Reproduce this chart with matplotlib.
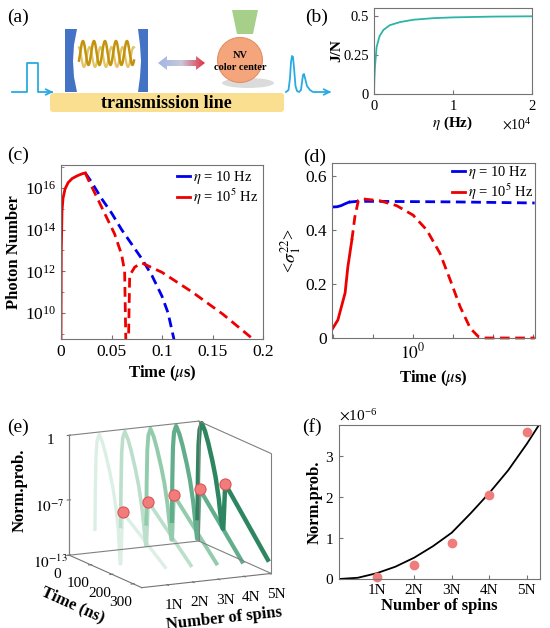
import numpy as np
import matplotlib
matplotlib.use('Agg')
import matplotlib.pyplot as plt
from matplotlib.patches import Polygon, Circle, Ellipse, FancyBboxPatch
from matplotlib.colors import LinearSegmentedColormap
from matplotlib.ticker import FixedLocator, NullLocator, NullFormatter, ScalarFormatter

plt.rcParams['font.family'] = ['Liberation Serif', 'DejaVu Serif']
plt.rcParams['mathtext.fontset'] = 'stix'
plt.rcParams['xtick.direction'] = 'in'
plt.rcParams['ytick.direction'] = 'in'
plt.rcParams['axes.edgecolor'] = '0.45'
plt.rcParams['xtick.color'] = '0.45'
plt.rcParams['ytick.color'] = '0.45'
plt.rcParams['xtick.labelcolor'] = 'black'
plt.rcParams['ytick.labelcolor'] = 'black'

# ---- data ----
# (b) J/N vs eta
b_eta = [0, 50, 130, 330, 700, 1200, 2000, 3300, 5000, 7500, 10000, 15000, 20000]
b_jn = [0, 0.10, 0.18, 0.30, 0.37, 0.41, 0.44, 0.46, 0.475, 0.485, 0.49, 0.495, 0.497]

# (c) photon number, log10 values, time in us
c_rise_t = [0, 0.0003, 0.001, 0.002, 0.004, 0.007, 0.011, 0.016, 0.021, 0.024]
c_rise_log = [8.7, 13.0, 14.9, 15.5, 15.95, 16.25, 16.45, 16.58, 16.68, 16.72]
c_blue_t = [0.024, 0.03, 0.04, 0.05, 0.06, 0.07, 0.08, 0.09, 0.1, 0.106, 0.112]
c_blue_log = [16.72, 16.3, 15.5, 14.8, 14.0, 13.3, 12.6, 11.8, 10.8, 10.0, 8.7]
c_red_t = [0.024, 0.027, 0.035, 0.045, 0.053, 0.06, 0.063, 0.0655, 0.068, 0.073,
           0.08, 0.1, 0.13, 0.16, 0.19]
c_red_log = [16.72, 16.4, 15.6, 14.6, 13.8, 12.8, 12.0, 5.0, 11.8, 12.2,
             12.4, 11.95, 11.0, 9.95, 8.75]

# (d) <sigma_1^22> vs time (us)
d_blue_solid_t = [0.0093, 0.0126, 0.0158, 0.020, 0.025]
d_blue_solid_y = [0.485, 0.486, 0.490, 0.497, 0.503]
d_blue_dash_t = [0.025, 0.04, 0.1, 1, 10, 100, 1100]
d_blue_dash_y = [0.503, 0.506, 0.506, 0.505, 0.504, 0.502, 0.500]
d_red_solid_t = [0.0093, 0.0132, 0.020, 0.0234, 0.0295]
d_red_solid_y = [0.03, 0.067, 0.167, 0.263, 0.363]
d_red_dash_t = [0.0295, 0.035, 0.043, 0.056, 0.15, 0.39, 1.0, 2.2, 4.7, 8.5, 15, 27, 43, 60, 1100]
d_red_dash_y = [0.363, 0.448, 0.51, 0.515, 0.508, 0.49, 0.455, 0.40, 0.314, 0.215, 0.116,
                0.036, 0.005, 0.0, 0.0]

# (e) normalized probability, log10, time in ns
e_spins = [1, 2, 3, 4, 5]
e_peak_t = [0, 2, 5, 10, 20, 35, 50, 70, 85, 100, 110]
e_peak_logp = [-10.5, -6, -2.5, -0.8, 0, -0.7, -1.8, -3.6, -5.2, -7.4, -9.5]
e_dip_t = 118
e_dip_logp = [-13, -11.3, -11.0, -11.2, -10.4]
e_mark_t = 130
e_end_t = 330
e_end_logp = [-11.2, -11.3, -11.4, -11.5, -11.6]
e_colors = ['#dcefe4', '#bcdfcb', '#93cbad', '#62ad8b', '#2d865f']

# (f) norm. prob. (x1e-6) vs number of spins
f_n = [1, 2, 3, 4, 5]
f_p = [0.05, 0.35, 0.87, 2.05, 3.6]
fit_n = [0, 0.5, 1, 1.5, 2, 2.5, 3, 3.5, 4, 4.5, 5, 5.35]
fit_p = [0, 0.03, 0.14, 0.3, 0.52, 0.8, 1.13, 1.6, 2.1, 2.65, 3.3, 3.8]
spin_labels = ['1N', '2N', '3N', '4N', '5N']

W, H = 550, 628
fig = plt.figure(figsize=(W / 100, H / 100), dpi=100)


def rect(x0, y0, x1, y1):
    return [x0 / W, 1 - y1 / H, (x1 - x0) / W, (y1 - y0) / H]


LAB = dict(fontsize=12, fontweight='bold')

# ---- (a) schematic ----
ax_a = fig.add_axes(rect(0, 0, 345, 128))
ax_a.set_xlim(0, 345)
ax_a.set_ylim(128, 0)
ax_a.axis('off')
ax_a.add_patch(FancyBboxPatch((50, 93), 234, 19, boxstyle='round,pad=0,rounding_size=3',
                              fc='#f9df8f', ec='none'))
ax_a.text(166, 103, 'transmission line', ha='center', va='center', fontsize=13,
          fontweight='bold')
mirror_l = [(65, 29), (77, 29), (74, 45), (73, 61), (74, 77), (77, 92), (65, 92)]
mirror_r = [(148, 29), (138, 29), (140, 45), (141, 61), (140, 77), (138, 92), (148, 92)]
ax_a.add_patch(Polygon(mirror_l, fc='#4472c4', ec='none'))
ax_a.add_patch(Polygon(mirror_r, fc='#4472c4', ec='none'))
wx = np.linspace(79, 134, 200)
ax_a.plot(wx, 57 + 10 * np.cos((wx - 84) / 55 * 5 * 2 * np.pi), color='#e2c46a', lw=1.6)
ax_a.plot(wx, 53 - 12 * np.cos((wx - 84) / 55 * 5 * 2 * np.pi + 0.6), color='#c4930c', lw=1.8)
arrow = Polygon([(158, 63), (167, 56), (167, 60), (196, 60), (196, 56), (205, 63),
                 (196, 70), (196, 66), (167, 66), (167, 70)], fc='none', ec='none')
ax_a.add_patch(arrow)
grad = LinearSegmentedColormap.from_list('g', ['#9fb6e4', '#c8c8dc', '#e2303f'])
im = ax_a.imshow(np.linspace(0, 1, 100)[None, :], extent=[158, 205, 71, 55], cmap=grad,
                 aspect='auto')
im.set_clip_path(arrow)
ax_a.set_xlim(0, 345)
ax_a.set_ylim(128, 0)
ax_a.add_patch(Ellipse((248, 83), 52, 10, fc='0.6', ec='none', alpha=0.35))
ax_a.add_patch(Polygon([(232, 10), (258, 10), (253, 34), (237, 34)], fc='#a6cf8a', ec='none'))
ax_a.add_patch(Circle((240, 60), 22.5, fc='#f4a57c', ec='#e39063', lw=0.8))
ax_a.text(240, 55, 'NV', ha='center', va='center', fontsize=7.5, fontweight='bold')
ax_a.text(240, 68, 'color center', ha='center', va='center', fontsize=7.5, fontweight='bold')
cyan = '#29abe2'
ax_a.plot([12, 27, 27, 38, 38, 52], [92, 92, 63, 63, 92, 92], color=cyan, lw=1.3)
ax_a.annotate('', xy=(56, 92), xytext=(48, 92),
              arrowprops=dict(arrowstyle='->', color=cyan, lw=1.3))
ox = [286, 288.5, 290, 291, 292, 293, 294, 295.5, 297, 299, 301, 302, 303, 304, 305, 307,
      310, 313, 329]
oy = [92, 90, 78, 62, 56, 57, 68, 86, 91, 92, 90, 82, 75, 74, 78, 86, 90, 92, 92]
ax_a.plot(ox, oy, color=cyan, lw=1.3)
ax_a.annotate('', xy=(334, 92), xytext=(326, 92),
              arrowprops=dict(arrowstyle='->', color=cyan, lw=1.3))

# ---- (b) ----
ax_b = fig.add_axes(rect(374, 8, 532, 94))
ax_b.plot(b_eta, b_jn, color='#2cb5a6', lw=1.3)
ax_b.set_xlim(0, 20000)
ax_b.set_ylim(0, 0.55)
ax_b.set_xticks([0, 10000, 20000])
ax_b.set_yticks([0, 0.25, 0.5])
ax_b.set_yticklabels(['0', '0.25', '0.5'])
fmt = ScalarFormatter(useMathText=True)
fmt.set_powerlimits((0, 0))
ax_b.xaxis.set_major_formatter(fmt)
ax_b.tick_params(labelsize=10.5, length=3)
ax_b.xaxis.get_offset_text().set_fontsize(10)
ax_b.set_xlabel(r'$\eta$ (Hz)', fontsize=11, fontweight='bold', labelpad=1)
ax_b.set_ylabel('J/N', fontsize=11, fontweight='bold', labelpad=0)

# ---- (c) ----
ax_c = fig.add_axes(rect(61, 165, 263, 339))
ax_c.semilogy(c_blue_t, 10.0 ** np.array(c_blue_log), color='#0000ee', lw=2, dashes=(3.5, 2))
ax_c.semilogy(c_red_t, 10.0 ** np.array(c_red_log), color='#ee0000', lw=2, dashes=(3.5, 2))
ax_c.semilogy(c_rise_t, 10.0 ** np.array(c_rise_log), color='#ee0000', lw=2)
ax_c.set_xlim(0, 0.2)
ax_c.set_ylim(10 ** 8.75, 10 ** 17.1)
ax_c.set_xticks([0, 0.05, 0.1, 0.15, 0.2])
ax_c.set_xticklabels(['0', '0.05', '0.1', '0.15', '0.2'])
ax_c.yaxis.set_major_locator(FixedLocator([1e10, 1e12, 1e14, 1e16]))
ax_c.yaxis.set_minor_locator(FixedLocator([1e9, 1e11, 1e13, 1e15, 1e17]))
ax_c.yaxis.set_minor_formatter(NullFormatter())
ax_c.tick_params(labelsize=12.5, length=3)
ax_c.tick_params(which='minor', length=2)
ax_c.set_xlabel(r'Time ($\mu$s)', labelpad=2, **LAB)
ax_c.set_ylabel('Photon Number', labelpad=2, **LAB)
ax_c.plot([], [], color='#0000ee', lw=2, label=r'$\eta$ = 10 Hz')
ax_c.plot([], [], color='#ee0000', lw=2, label=r'$\eta$ = 10$^5$ Hz')
hs, ls = ax_c.get_legend_handles_labels()
ax_c.legend(hs[-2:], ls[-2:], loc='upper right', frameon=False, fontsize=10.5,
            handlelength=0.9, handletextpad=0.2, borderaxespad=0.1, borderpad=0.2,
            labelspacing=0.05)

# ---- (d) ----
ax_d = fig.add_axes(rect(332, 163, 535, 338))
ax_d.plot(d_blue_solid_t, d_blue_solid_y, color='#0000ee', lw=2)
ax_d.plot(d_blue_dash_t, d_blue_dash_y, color='#0000ee', lw=2, dashes=(3.5, 2))
ax_d.plot(d_red_dash_t, d_red_dash_y, color='#ee0000', lw=2, dashes=(3.5, 2), clip_on=False)
ax_d.plot(d_red_solid_t, d_red_solid_y, color='#ee0000', lw=2)
ax_d.set_xscale('log')
ax_d.set_xlim(0.0094, 1120)
ax_d.set_ylim(0, 0.648)
ax_d.xaxis.set_major_locator(FixedLocator([0.01, 0.1, 1, 10, 100, 1000]))
ax_d.xaxis.set_minor_locator(NullLocator())
ax_d.set_xticklabels(['', '', r'$10^0$', '', '', ''])
ax_d.set_yticks([0, 0.2, 0.4, 0.6])
ax_d.set_yticklabels(['0', '0.2', '0.4', '0.6'])
ax_d.tick_params(labelsize=12.5, length=3)
ax_d.set_xlabel(r'Time ($\mu$s)', labelpad=4, **LAB)
ax_d.set_ylabel(r'<$\sigma_1^{22}$>', labelpad=2, fontsize=13)
ax_d.plot([], [], color='#0000ee', lw=2, label=r'$\eta$ = 10 Hz')
ax_d.plot([], [], color='#ee0000', lw=2, label=r'$\eta$ = 10$^5$ Hz')
hs, ls = ax_d.get_legend_handles_labels()
ax_d.legend(hs[-2:], ls[-2:], loc='upper right', frameon=False, fontsize=10.5,
            handlelength=0.9, handletextpad=0.2, borderaxespad=0.0, borderpad=0.1,
            labelspacing=0.0)

# ---- (e) 3D ----
ax_e = fig.add_axes([0.024, 0.012, 0.56, 0.36], projection='3d')
ax_e.set_proj_type('ortho')
ax_e.view_init(elev=12.8, azim=-26.3)
ax_e.set_box_aspect((190, 168, 143), zoom=1.075)
mark_logp = np.log10(np.array(f_p) * 1e-6)
for i, s in enumerate(e_spins):
    tt = e_peak_t + [e_dip_t, e_dip_t + 3, e_mark_t, e_end_t]
    zz = e_peak_logp + [e_dip_logp[i], e_dip_logp[i], mark_logp[i], e_end_logp[i]]
    ax_e.plot(tt, [s] * len(tt), zz, color=e_colors[i], lw=2.4 + 0.2 * i)
    ax_e.plot([e_mark_t], [s], [mark_logp[i]], 'o', ms=8, mfc='#f27c7c', mec='#d95555',
              mew=0.8, zorder=10)
t_lim, s_lim, z_lim = (0, 340), (0, 5.05), (-13, 0)
# back box edges
box_edges = [
    ((t_lim[0], t_lim[0]), (s_lim[0], s_lim[0]), z_lim),
    ((t_lim[0], t_lim[0]), (s_lim[1], s_lim[1]), z_lim),
    ((t_lim[1], t_lim[1]), (s_lim[1], s_lim[1]), z_lim),
    ((t_lim[0], t_lim[0]), s_lim, (z_lim[1], z_lim[1])),
    (t_lim, (s_lim[1], s_lim[1]), (z_lim[1], z_lim[1])),
    ((t_lim[0], t_lim[0]), s_lim, (z_lim[0], z_lim[0])),
    (t_lim, (s_lim[1], s_lim[1]), (z_lim[0], z_lim[0])),
]
for ex, ey, ez in box_edges:
    ax_e.plot(ex, ey, ez, color='0.5', lw=0.8)
ax_e.set_xlim(*t_lim)
ax_e.set_ylim(*s_lim)
ax_e.set_zlim(*z_lim)
ax_e.set_xticks([0, 100, 200, 300])
ax_e.set_yticks(e_spins)
ax_e.set_yticklabels(spin_labels)
ax_e.set_zticks([-13, -7, 0])
ax_e.set_zticklabels([r'$10^{-13}$', r'$10^{-7}$', '1'])
ax_e.zaxis.set_ticks_position('lower')
ax_e.zaxis.set_label_position('lower')
ax_e.grid(False)
for axis in (ax_e.xaxis, ax_e.yaxis, ax_e.zaxis):
    axis.set_pane_color((1, 1, 1, 0))
    axis.line.set_color('0.45')
ax_e.tick_params(labelsize=11, pad=0)
ax_e.set_xlabel('Time (ns)', fontsize=12, fontweight='bold', labelpad=0)
ax_e.set_ylabel('Number of spins', fontsize=12, fontweight='bold', labelpad=0)
ax_e.set_zlabel('Norm.prob.', fontsize=12, fontweight='bold', labelpad=0)

# ---- (f) ----
ax_f = fig.add_axes(rect(339, 425, 540, 579))
ax_f.plot(np.array(fit_n), np.array(fit_p) * 1e-6, color='black', lw=1.3)
ax_f.plot(f_n, np.array(f_p) * 1e-6, 'o', ms=6, color='#f07c7c', clip_on=False)
ax_f.set_xlim(0, 5.35)
ax_f.set_ylim(0, 3.76e-6)
ax_f.set_xticks(f_n)
ax_f.set_xticklabels(spin_labels)
ax_f.set_yticks([0, 1e-6, 2e-6, 3e-6])
fmt = ScalarFormatter(useMathText=True)
fmt.set_powerlimits((0, 0))
ax_f.yaxis.set_major_formatter(fmt)
ax_f.tick_params(labelsize=11, length=3)
ax_f.yaxis.get_offset_text().set_fontsize(11)
ax_f.set_xlabel('Number of spins', labelpad=1, **LAB)
ax_f.set_ylabel('Norm.prob.', labelpad=2, **LAB)

# panel labels
for lab, x, y in [('(a)', 7, 17), ('(b)', 305, 17), ('(c)', 7, 155), ('(d)', 303, 157),
                  ('(e)', 7, 427), ('(f)', 302, 427)]:
    fig.text(x / W, 1 - y / H, lab, fontsize=14, va='center', ha='left')

fig.savefig('out.png', dpi=100)
